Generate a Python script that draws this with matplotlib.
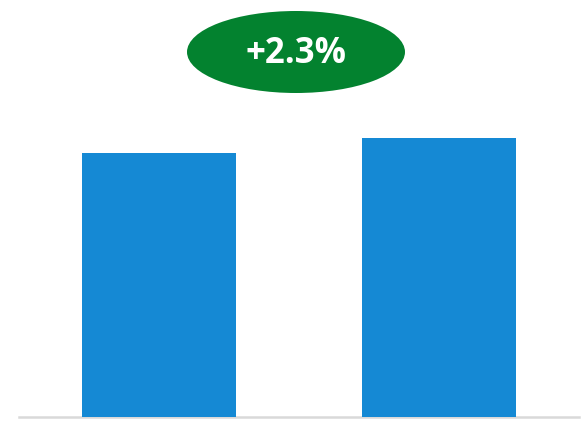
import matplotlib
matplotlib.use("Agg")
import matplotlib.pyplot as plt
from matplotlib.patches import Ellipse

categories = ["Period 1", "Period 2"]
values = [100.0, 102.3]
change_label = "+2.3%"

fig = plt.figure(figsize=(5.81, 4.25), dpi=100)
ax = fig.add_axes([0, 8 / 425, 1, 417 / 425])
ax.set_axis_off()

x = [0, 1]
ax.bar(x, values, width=0.55, color="#1589d4", bottom=0, zorder=2)
ax.set_xlim(-159 / 280, (581 - 159) / 280)
ax.set_ylim(59.5, 123.5)

ax.axhline(59.5, xmin=19 / 581, xmax=579 / 581, color="#d9d9d9", lw=1.8, zorder=1, clip_on=False)

ell = Ellipse((296 / 581, 365 / 417), 218 / 581, 82 / 417, transform=ax.transAxes,
              facecolor="#03822f", edgecolor="none", zorder=3)
ax.add_patch(ell)
ax.text(296 / 581, 363 / 417, change_label, transform=ax.transAxes, ha="center", va="center",
        color="white", fontsize=25, fontweight="bold", family=["Open Sans", "DejaVu Sans"], zorder=4)

fig.savefig("out.png", dpi=100)
